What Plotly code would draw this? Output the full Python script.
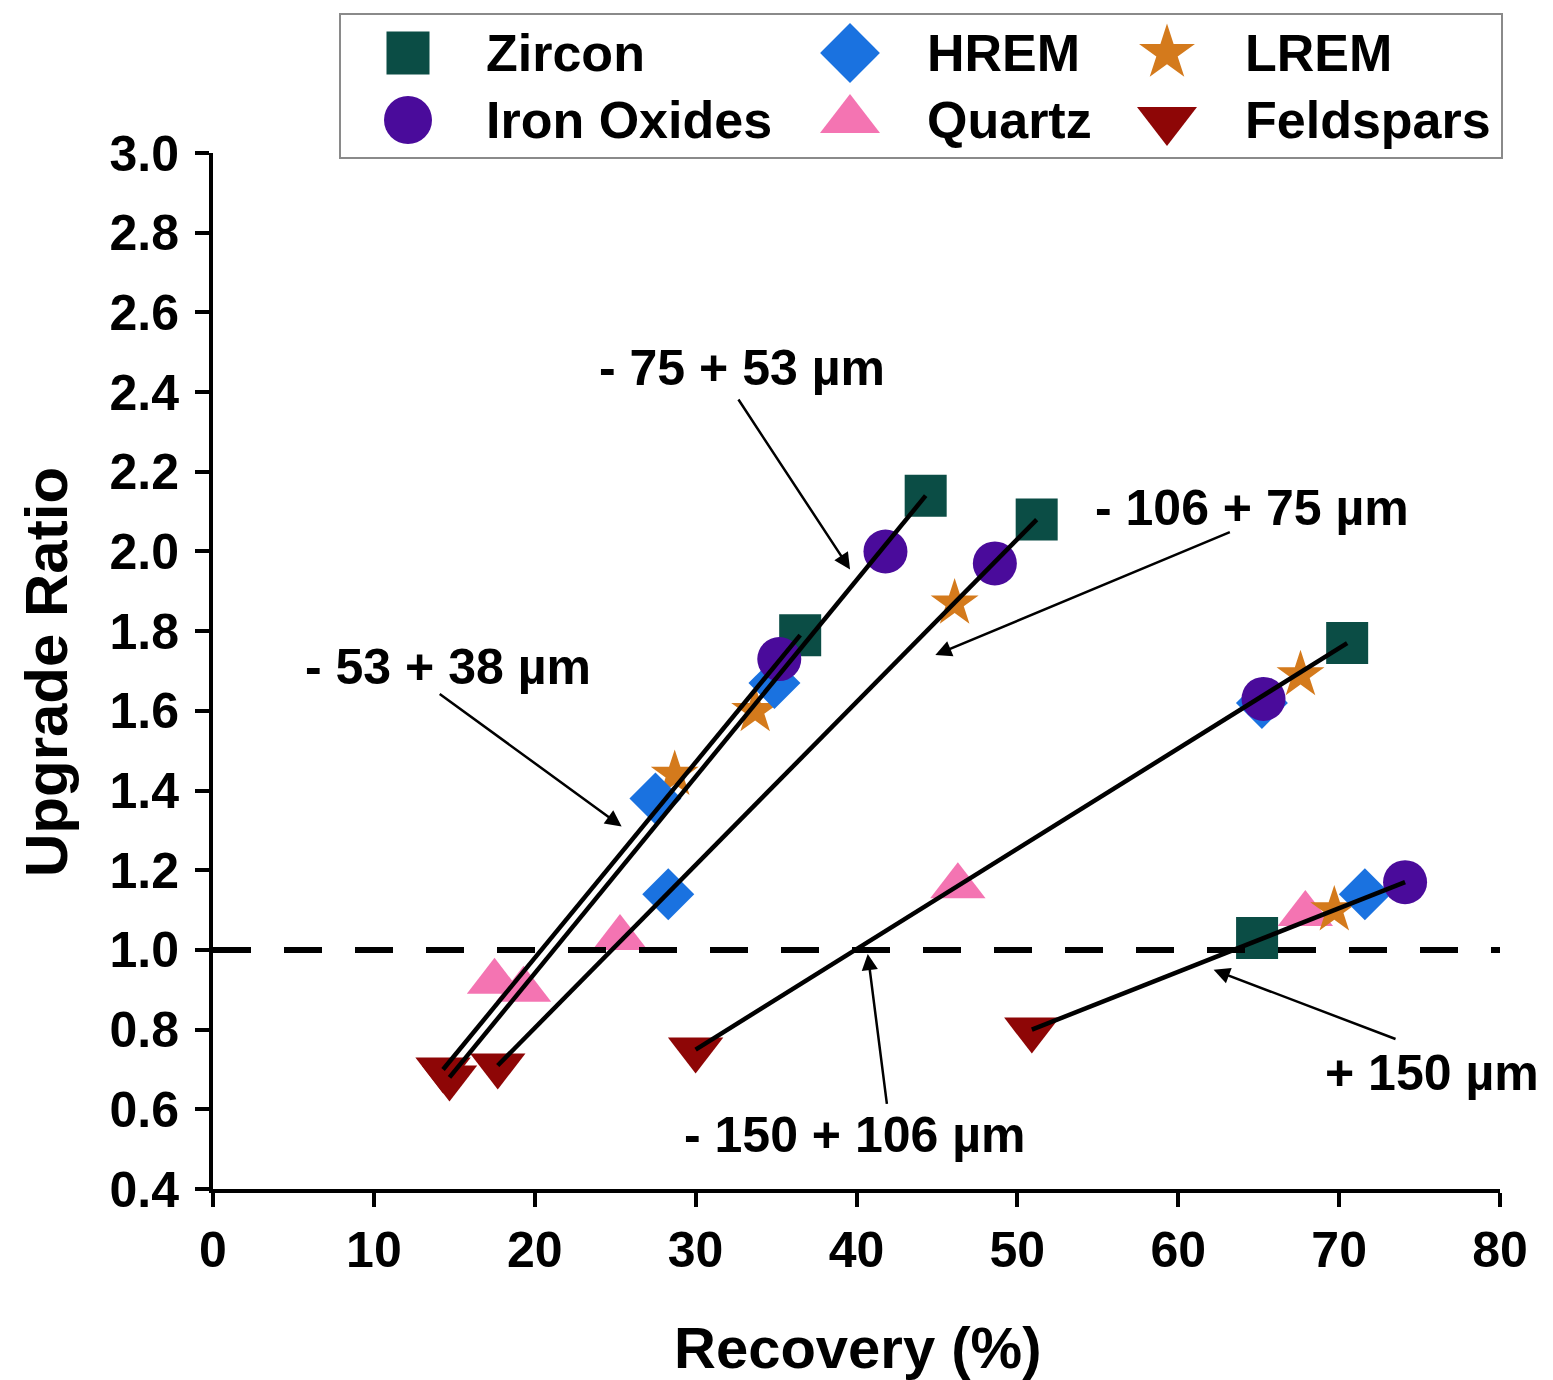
import plotly.graph_objects as go

# ---------------- data ----------------
fractions = ["- 75 + 53 µm", "- 53 + 38 µm", "- 106 + 75 µm", "- 150 + 106 µm", "+ 150 µm"]

zircon_rec = [44.3, 36.5, 51.2, 70.5, 64.9]
zircon_ur = [2.14, 1.79, 2.08, 1.77, 1.03]
iron_rec = [41.8, 35.2, 48.6, 65.3, 74.1]
iron_ur = [2.00, 1.73, 1.97, 1.63, 1.17]
hrem_rec = [27.5, 34.9, 28.3, 65.2, 71.6]
hrem_ur = [1.38, 1.67, 1.14, 1.62, 1.14]
lrem_rec = [28.7, 33.7, 46.1, 67.6, 69.7]
lrem_ur = [1.44, 1.60, 1.87, 1.69, 1.10]
quartz_rec = [19.3, 17.5, 25.3, 46.3, 67.9]
quartz_ur = [0.90, 0.92, 1.03, 1.16, 1.09]
feld_rec = [14.7, 14.3, 17.7, 30.0, 50.9]
feld_ur = [0.68, 0.70, 0.71, 0.75, 0.80]

# annotation (label) positions and arrows: label centre, arrow tail, arrow tip
label_x = [32.9, 14.6, 64.6, 39.9, 75.8]
label_y = [2.46, 1.71, 2.11, 0.535, 0.69]
arrow_tail_x = [32.6, 14.0, 63.3, 41.9, 73.6]
arrow_tail_y = [2.385, 1.645, 2.05, 0.61, 0.775]
arrow_tip_x = [39.6, 25.4, 44.9, 40.7, 62.2]
arrow_tip_y = [1.955, 1.31, 1.74, 0.99, 0.95]

x_ticks = [0, 10, 20, 30, 40, 50, 60, 70, 80]
y_ticks = [0.4, 0.6, 0.8, 1.0, 1.2, 1.4, 1.6, 1.8, 2.0, 2.2, 2.4, 2.6, 2.8, 3.0]

FONT = "Liberation Sans"

series = [
    # name, rec, ur, symbol, color, size, legend size, legend slot (col,row)
    ("Zircon", zircon_rec, zircon_ur, "square", "#0b4d45", 42, 43, (0, 0)),
    ("Quartz", quartz_rec, quartz_ur, "triangle-up", "#f474b2", 48, 52, (1, 1)),
    ("Feldspars", feld_rec, feld_ur, "triangle-down", "#8e0606", 48, 52, (2, 1)),
    ("LREM", lrem_rec, lrem_ur, "star", "#d47a1c", 36, 42, (2, 0)),
    ("HREM", hrem_rec, hrem_ur, "diamond", "#1a72e0", 40, 46, (1, 0)),
    ("Iron Oxides", iron_rec, iron_ur, "circle", "#4a0b9b", 44, 48, (0, 1)),
]

fig = go.Figure()

for name, rec, ur, sym, col, size, lsize, slot in series:
    fig.add_trace(go.Scatter(
        x=rec, y=ur, mode="markers", name=name, showlegend=False,
        marker=dict(symbol=sym, color=col, size=size, line=dict(width=0)),
        cliponaxis=False))

# trend lines per size fraction: from lowest to highest recovery point
all_rec = [zircon_rec, iron_rec, hrem_rec, lrem_rec, quartz_rec, feld_rec]
all_ur = [zircon_ur, iron_ur, hrem_ur, lrem_ur, quartz_ur, feld_ur]
for i in range(len(fractions)):
    pts = sorted((r[i], u[i]) for r, u in zip(all_rec, all_ur))
    lo, hi = pts[0], pts[-1]
    fig.add_trace(go.Scatter(x=[lo[0], hi[0]], y=[lo[1], hi[1]], mode="lines",
                             line=dict(color="black", width=4.5), showlegend=False))

# dashed reference line at upgrade ratio = 1
fig.add_shape(type="line", xref="x", yref="y", x0=0, x1=80, y0=1.0, y1=1.0,
              line=dict(color="black", width=6, dash="38px,33px"), layer="above")

# annotations: labels + arrows
for i, lab in enumerate(fractions):
    fig.add_annotation(x=label_x[i], y=label_y[i], xref="x", yref="y", text=f"<b>{lab}</b>",
                       showarrow=False, font=dict(family=FONT, size=50, color="black"),
                       xanchor="center", yanchor="middle")
    fig.add_annotation(x=arrow_tip_x[i], y=arrow_tip_y[i], ax=arrow_tail_x[i], ay=arrow_tail_y[i],
                       xref="x", yref="y", axref="x", ayref="y", text="", showarrow=True,
                       arrowhead=2, arrowsize=1.3, arrowwidth=2.5, arrowcolor="black")

# ---------- layout geometry (pixels) ----------
L, R, T, B = 213, 1500, 153, 1189
T0 = 10  # top of the whole plotting region (legend lives between T0 and T)
W, H = 1553, 1380


def px(x):
    return (x - L) / (R - L)


def py(y):
    return (B - y) / (B - T0)


# ---------- manual legend ----------
fig.add_shape(type="rect", xref="paper", yref="paper", x0=px(340), x1=px(1502), y0=py(158), y1=py(14),
              line=dict(color="#8a8a8a", width=2), fillcolor="rgba(0,0,0,0)", layer="below")

col_marker_x = [408, 850, 1167]
col_text_x = [484, 925, 1243]
row_y = [53, 120]
for name, rec, ur, sym, col, size, lsize, slot in series:
    c, r = slot
    fig.add_trace(go.Scatter(x=[col_marker_x[c]], y=[row_y[r]], xaxis="x2", yaxis="y2", mode="markers",
                             marker=dict(symbol=sym, color=col, size=lsize, line=dict(width=0)),
                             showlegend=False, cliponaxis=False, hoverinfo="skip"))
    fig.add_annotation(x=px(col_text_x[c]), y=py(row_y[r]), xref="paper", yref="paper",
                       text=f"<b>{name}</b>", showarrow=False, xanchor="left", yanchor="middle",
                       font=dict(family=FONT, size=52, color="black"))

# axis titles
fig.add_annotation(x=px(857), y=py(1347), xref="paper", yref="paper", text="<b>Recovery (%)</b>",
                   showarrow=False, xanchor="center", yanchor="middle",
                   font=dict(family=FONT, size=58, color="black"))
fig.add_annotation(x=px(46), y=py(672), xref="paper", yref="paper", text="<b>Upgrade Ratio</b>",
                   showarrow=False, xanchor="center", yanchor="middle", textangle=-90,
                   font=dict(family=FONT, size=60, color="black"))

tickfont = dict(family=FONT, size=50, color="black", weight="bold")
fig.update_layout(
    width=W, height=H,
    margin=dict(l=L, r=W - R, t=T0, b=H - B, pad=0, autoexpand=False),
    paper_bgcolor="white", plot_bgcolor="rgba(0,0,0,0)",
    showlegend=False,
    xaxis=dict(range=[0, 80], tickvals=x_ticks, ticktext=[str(v) for v in x_ticks], domain=[0, 1],
               showgrid=False, zeroline=False, showline=True, linecolor="black", linewidth=4,
               ticks="outside", ticklen=14, tickwidth=4, tickcolor="black", tickfont=tickfont),
    yaxis=dict(range=[0.4, 3.0], tickvals=y_ticks, ticktext=[f"{v:.1f}" for v in y_ticks],
               domain=[0, (B - T) / (B - T0)], ticklabelstandoff=6,
               showgrid=False, zeroline=False, showline=True, linecolor="black", linewidth=4,
               ticks="outside", ticklen=14, tickwidth=4, tickcolor="black", tickfont=tickfont),
    xaxis2=dict(anchor="y2", domain=[0, 1], range=[L, R], visible=False, fixedrange=True),
    yaxis2=dict(anchor="x2", domain=[0, 1], range=[B, T0], visible=False, fixedrange=True),
)

fig.write_html("out.html")
